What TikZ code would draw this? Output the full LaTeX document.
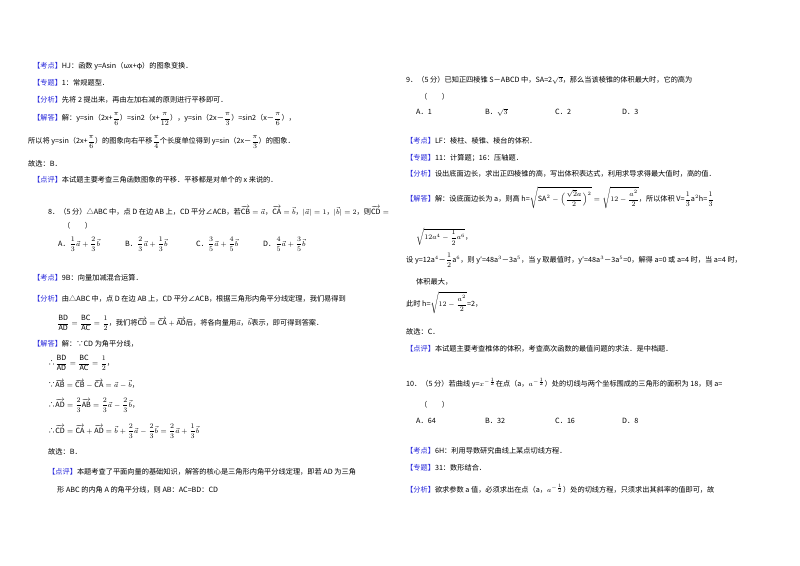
\documentclass[tikz,border=0pt]{standalone}
\usepackage{amsmath}
\usepackage{fontspec}
\setmainfont{Noto Sans CJK SC}
\definecolor{lblue}{RGB}{40,40,220}
\newcommand\lbl[1]{\textcolor{lblue}{【#1】}}
\newcommand\vv[1]{\overrightarrow{\mathrm{#1}}}
\begin{document}
\begin{tikzpicture}[x=1pt,y=-1pt,t/.style={anchor=west,inner sep=0pt,font=\fontsize{7.2}{9}\selectfont}]
\useasboundingbox[fill=white] (0,0) rectangle (800,565);
% left column
\node[t] (l1) at (33,66) {\lbl{考点}HJ：函数 y=Asin（ωx+φ）的图象变换．};
\node[t] (l2) at (33,83) {\lbl{专题}1：常规题型．};
\node[t] (l3) at (33,100) {\lbl{分析}先将 2 提出来，再由左加右减的原则进行平移即可．};
\node[t] (l4) at (33,119) {\lbl{解答}解：y=sin（2x+$\dfrac{\pi}{6}$）=sin2（x+$\dfrac{\pi}{12}$），y=sin（2x－$\dfrac{\pi}{3}$）=sin2（x－$\dfrac{\pi}{6}$），};
\node[t] (l5) at (28,142) {所以将 y=sin（2x+$\dfrac{\pi}{6}$）的图象向右平移$\dfrac{\pi}{4}$个长度单位得到 y=sin（2x－$\dfrac{\pi}{3}$）的图象．};
\node[t] (l6) at (28,164) {故选：B．};
\node[t] (l7) at (33,180) {\lbl{点评}本试题主要考查三角函数图象的平移．平移都是对单个的 x 来说的．};
\node[t] (l8) at (48,211) {8．（5 分）△ABC 中，点 D 在边 AB 上，CD 平分∠ACB，若$\vv{CB}=\vec a$，$\vv{CA}=\vec b$，$|\vec a|=1$，$|\vec b|=2$，则$\vv{CD}=$};
\node[t] (l9) at (63,226) {（　　）};
\node[t] (l10) at (58,244) {A．$\dfrac13\vec a+\dfrac23\vec b$};
\node[t] (l11) at (125,244) {B．$\dfrac23\vec a+\dfrac13\vec b$};
\node[t] (l12) at (196,244) {C．$\dfrac35\vec a+\dfrac45\vec b$};
\node[t] (l13) at (263,244) {D．$\dfrac45\vec a+\dfrac35\vec b$};
\node[t] (l14) at (33,278) {\lbl{考点}9B：向量加减混合运算．};
\node[t] (l15) at (33,299) {\lbl{分析}由△ABC 中，点 D 在边 AB 上，CD 平分∠ACB，根据三角形内角平分线定理，我们易得到};
\node[t] (l16) at (57,323) {$\dfrac{\mathrm{BD}}{\mathrm{AD}}=\dfrac{\mathrm{BC}}{\mathrm{AC}}=\dfrac12$，我们将$\vv{CD}=\vv{CA}+\vv{AD}$后，将各向量用$\vec a$，$\vec b$表示，即可得到答案．};
\node[t] (l17) at (33,344) {\lbl{解答}解：∵CD 为角平分线，};
\node[t] (l18) at (48,363) {∴$\dfrac{\mathrm{BD}}{\mathrm{AD}}=\dfrac{\mathrm{BC}}{\mathrm{AC}}=\dfrac12$，};
\node[t] (l19) at (48,384) {∵$\vv{AB}=\vv{CB}-\vv{CA}=\vec a-\vec b$，};
\node[t] (l20) at (48,405) {∴$\vv{AD}=\dfrac23\vv{AB}=\dfrac23\vec a-\dfrac23\vec b$，};
\node[t] (l21) at (48,431) {∴$\vv{CD}=\vv{CA}+\vv{AD}=\vec b+\dfrac23\vec a-\dfrac23\vec b=\dfrac23\vec a+\dfrac13\vec b$};
\node[t] (l22) at (48,452) {故选：B．};
\node[t] (l23) at (48,472) {\lbl{点评}本题考查了平面向量的基础知识，解答的核心是三角形内角平分线定理，即若 AD 为三角};
\node[t] (l24) at (57,490) {形 ABC 的内角 A 的角平分线，则 AB：AC=BD：CD};
% right column
\node[t] (r1) at (406,80) {9．（5 分）已知正四棱锥 S－ABCD 中，SA=2$\sqrt3$，那么当该棱锥的体积最大时，它的高为};
\node[t] (r2) at (420,97) {（　　）};
\node[t] (r3) at (416,112) {A．1};
\node[t] (r4) at (485,112) {B．$\sqrt3$};
\node[t] (r5) at (555,112) {C．2};
\node[t] (r6) at (622,112) {D．3};
\node[t] (r7) at (406,141) {\lbl{考点}LF：棱柱、棱锥、棱台的体积．};
\node[t] (r8) at (406,158) {\lbl{专题}11：计算题；16：压轴题．};
\node[t] (r9) at (406,174) {\lbl{分析}设出底面边长，求出正四棱锥的高，写出体积表达式，利用求导求得最大值时，高的值．};
\node[t] (r10) at (406,198) {\lbl{解答}解：设底面边长为 a，则高 h=$\sqrt{\mathrm{SA}^2-\Big(\dfrac{\sqrt2 a}{2}\Big)^2}=\sqrt{12-\dfrac{a^2}{2}}$，所以体积 V=$\dfrac13$a$^2$h=$\dfrac13$};
\node[t] (r11) at (416,237) {$\sqrt{12a^4-\dfrac12 a^6}$，};
\node[t] (r12) at (406,260) {设 y=12a$^4$－$\dfrac12$a$^6$，则 y′=48a$^3$－3a$^5$，当 y 取最值时，y′=48a$^3$－3a$^5$=0，解得 a=0 或 a=4 时，当 a=4 时，};
\node[t] (r13) at (416,282) {体积最大，};
\node[t] (r14) at (406,303) {此时 h=$\sqrt{12-\dfrac{a^2}{2}}$=2，};
\node[t] (r15) at (406,332) {故选：C．};
\node[t] (r16) at (406,349) {\lbl{点评}本试题主要考查椎体的体积，考查高次函数的最值问题的求法．是中档题．};
\node[t] (r17) at (406,383) {10．（5 分）若曲线 y=$x^{-\frac12}$在点（a，$a^{-\frac12}$）处的切线与两个坐标围成的三角形的面积为 18，则 a=};
\node[t] (r18) at (420,405) {（　　）};
\node[t] (r19) at (416,421) {A．64};
\node[t] (r20) at (485,421) {B．32};
\node[t] (r21) at (555,421) {C．16};
\node[t] (r22) at (622,421) {D．8};
\node[t] (r23) at (406,451) {\lbl{考点}6H：利用导数研究曲线上某点切线方程．};
\node[t] (r24) at (406,468) {\lbl{专题}31：数形结合．};
\node[t] (r25) at (406,489) {\lbl{分析}欲求参数 a 值，必须求出在点（a，$a^{-\frac12}$）处的切线方程，只须求出其斜率的值即可，故};
\end{tikzpicture}
\end{document}
